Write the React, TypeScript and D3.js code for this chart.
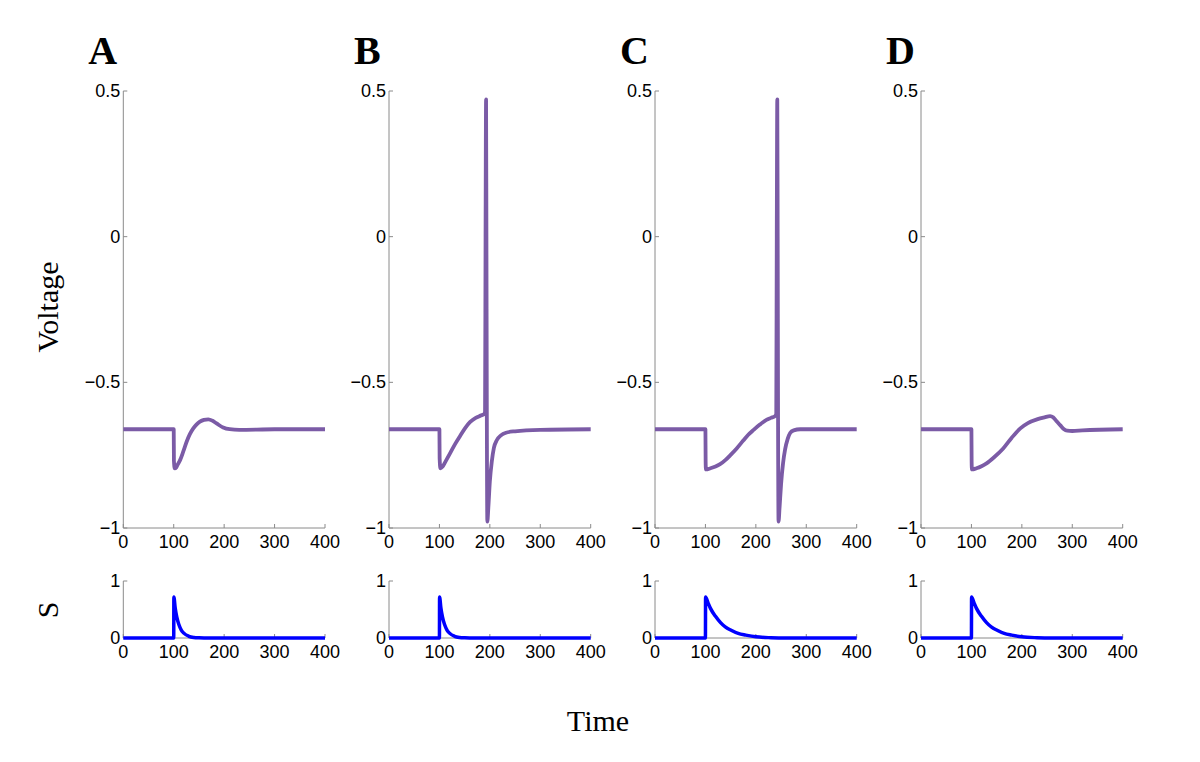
import React from "react";
import * as d3 from "d3";

const panelLabels = ["A", "B", "C", "D"];
const voltageTicks = [-1, -0.5, 0, 0.5];
const sTicks = [0, 1];
const timeTicks = [0, 100, 200, 300, 400];

const voltageA: [number, number][] = [
  [0, -0.661], [100, -0.661], [100.4, -0.77], [102, -0.795], [105, -0.792], [108, -0.782], [112.6, -0.767],
  [119, -0.737], [125.6, -0.704], [132, -0.678], [138.8, -0.658], [145, -0.645], [152, -0.635], [160, -0.629],
  [168.6, -0.627], [177, -0.632], [185, -0.641], [198, -0.655], [211, -0.661], [230, -0.663], [300, -0.661],
  [400, -0.661],
];
const voltageB: [number, number][] = [
  [0, -0.661], [100, -0.661], [100.4, -0.76], [102, -0.795], [106, -0.79], [112, -0.772], [121, -0.744],
  [131, -0.712], [141, -0.684], [151, -0.657], [161, -0.636], [172, -0.622], [182, -0.614], [189, -0.608],
  [190.5, -0.6], [191.5, 0.0], [192.5, 0.471], [193.2, 0.0], [194, -0.6], [195, -0.978], [197, -0.93],
  [200, -0.84], [204, -0.77], [208, -0.725], [214, -0.698], [222, -0.682], [232, -0.673], [250, -0.668],
  [300, -0.663], [400, -0.661],
];
const voltageC: [number, number][] = [
  [0, -0.661], [100, -0.661], [100.4, -0.77], [101, -0.799], [110, -0.795], [120, -0.789], [129, -0.781],
  [140, -0.766], [150, -0.749], [162, -0.727], [175, -0.7], [185, -0.68], [195, -0.664], [208, -0.645],
  [221, -0.629], [230, -0.622], [238, -0.616], [240.5, -0.608], [241.5, 0.0], [242.5, 0.471], [243.3, 0.0],
  [244, -0.6], [245, -0.978], [247, -0.93], [250, -0.85], [254, -0.777], [258, -0.73], [263, -0.695],
  [268, -0.674], [275, -0.665], [288, -0.661], [400, -0.661],
];
const voltageD: [number, number][] = [
  [0, -0.661], [100, -0.661], [100.4, -0.77], [101, -0.799], [110, -0.795], [120, -0.788], [130, -0.778],
  [145, -0.757], [163, -0.727], [180, -0.69], [197, -0.658], [212, -0.64], [230, -0.627], [245, -0.62],
  [256, -0.616], [262, -0.62], [268, -0.632], [276, -0.647], [283, -0.66], [290, -0.666], [300, -0.667],
  [320, -0.665], [400, -0.661],
];

const sFast: [number, number][] = [
  [0, 0], [100, 0], [100.3, 0.72], [103, 0.52], [106, 0.37], [110, 0.24], [115, 0.14], [120, 0.085],
  [130, 0.03], [140, 0.01], [150, 0.004], [170, 0], [400, 0],
];
const sSlow: [number, number][] = [
  [0, 0], [100, 0], [100.3, 0.72], [105, 0.62], [110, 0.52], [120, 0.38], [130, 0.27], [140, 0.19],
  [150, 0.14], [165, 0.08], [180, 0.05], [200, 0.02], [230, 0.005], [260, 0], [400, 0],
];

const voltageSeries = [voltageA, voltageB, voltageC, voltageD];
const sSeries = [sFast, sFast, sSlow, sSlow];

const panelX0 = [123.3, 389, 655, 921];
const panelW = 201.7;
const vTop = 91, vBottom = 528;
const sTop = 581, sBottom = 638;

const tickFont = "'Liberation Sans', Arial, sans-serif";
const serif = "'Liberation Serif', 'DejaVu Serif', serif";
const axisColor = "#8a8a8a";
const fmt = (v: number) => (v < 0 ? "\u2212" + Math.abs(v) : String(v));

function Panel({ i }: { i: number }) {
  const x = d3.scaleLinear().domain([0, 400]).range([panelX0[i], panelX0[i] + panelW]);
  const yv = d3.scaleLinear().domain([-1, 0.5]).range([vBottom, vTop]);
  const ys = d3.scaleLinear().domain([0, 1]).range([sBottom, sTop]);
  const vLine = d3.line<[number, number]>().x((d) => x(d[0])).y((d) => yv(d[1])).curve(d3.curveMonotoneX);
  const sLine = d3.line<[number, number]>().x((d) => x(d[0])).y((d) => ys(d[1])).curve(d3.curveMonotoneX);
  const x0 = x(0);
  const xAxis = (yBase: number, key: string) => (
    <g key={key}>
      <line x1={x0} x2={x(400)} y1={yBase} y2={yBase} stroke={axisColor} strokeWidth={1} />
      {timeTicks.map((t) => (
        <g key={t}>
          <line x1={x(t)} x2={x(t)} y1={yBase} y2={yBase - 4} stroke={axisColor} strokeWidth={1} />
          <text x={x(t)} y={yBase + 20} textAnchor="middle" fontFamily={tickFont} fontSize={18} fill="#000">
            {t}
          </text>
        </g>
      ))}
    </g>
  );
  return (
    <g>
      <text x={panelX0[i] - 35} y={64} fontFamily={serif} fontWeight="bold" fontSize={40} fill="#000">
        {panelLabels[i]}
      </text>
      <line x1={x0} x2={x0} y1={vTop} y2={vBottom} stroke={axisColor} strokeWidth={1} />
      {voltageTicks.map((v) => (
        <g key={v}>
          <line x1={x0} x2={x0 + 4} y1={yv(v)} y2={yv(v)} stroke={axisColor} strokeWidth={1} />
          <text x={x0 - 3} y={yv(v) + 6} textAnchor="end" fontFamily={tickFont} fontSize={18} fill="#000">
            {fmt(v)}
          </text>
        </g>
      ))}
      {xAxis(vBottom, "vx")}
      <path d={vLine(voltageSeries[i]) || ""} fill="none" stroke="#7b5ba6" strokeWidth={3.8} strokeLinejoin="round" />
      <line x1={x0} x2={x0} y1={sTop} y2={sBottom} stroke={axisColor} strokeWidth={1} />
      {sTicks.map((v) => (
        <g key={v}>
          <line x1={x0} x2={x0 + 4} y1={ys(v)} y2={ys(v)} stroke={axisColor} strokeWidth={1} />
          <text x={x0 - 3} y={ys(v) + 6} textAnchor="end" fontFamily={tickFont} fontSize={18} fill="#000">
            {v}
          </text>
        </g>
      ))}
      {xAxis(sBottom, "sx")}
      <path d={sLine(sSeries[i]) || ""} fill="none" stroke="#0000ff" strokeWidth={3.5} strokeLinejoin="round" />
    </g>
  );
}

export default function App() {
  return (
    <svg width={1200} height={762} style={{ position: "absolute", left: 0, top: 0, background: "#fff" }}>
      <rect width={1200} height={762} fill="#fff" />
      {panelLabels.map((_, i) => (
        <Panel key={i} i={i} />
      ))}
      <text transform="translate(58,307) rotate(-90)" textAnchor="middle" fontFamily={serif} fontSize={30} fill="#000">
        Voltage
      </text>
      <text transform="translate(58,610) rotate(-90)" textAnchor="middle" fontFamily={serif} fontSize={30} fill="#000">
        S
      </text>
      <text x={598} y={731} textAnchor="middle" fontFamily={serif} fontSize={30} fill="#000">
        Time
      </text>
    </svg>
  );
}
